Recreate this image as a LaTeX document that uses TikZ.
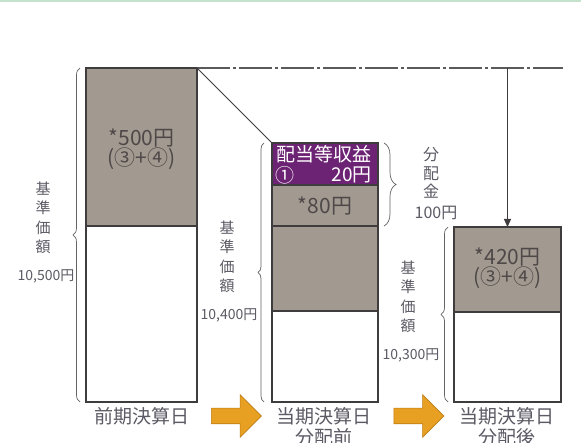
\documentclass[tikz,border=0pt]{standalone}
\usepackage{fontspec}
\setmainfont{Noto Sans CJK JP}
\usetikzlibrary{decorations.pathreplacing,shapes.arrows,arrows.meta}
\definecolor{boxgray}{RGB}{162,153,144}
\definecolor{linegray}{RGB}{62,60,60}
\definecolor{txtgray}{RGB}{92,90,100}
\definecolor{intxt}{RGB}{78,72,72}
\definecolor{dpurple}{RGB}{108,35,115}
\definecolor{arrorange}{RGB}{232,160,34}
\definecolor{arredge}{RGB}{190,125,20}
\definecolor{topgreen}{RGB}{196,226,204}
\begin{document}
\begin{tikzpicture}[x=1pt,y=-1pt,
  seg/.style={draw=linegray, line width=1.3pt, inner sep=0pt, outer sep=0pt, anchor=north west},
  intext/.style={text=intxt, font=\fontsize{21}{20}\selectfont, align=center, inner sep=0pt},
  lbl/.style={text=txtgray, inner sep=0pt, align=center},
  vlbl/.style={lbl, font=\fontsize{15}{19.5}\selectfont},
  numlbl/.style={lbl, font=\fontsize{14}{15}\selectfont},
  datelbl/.style={lbl, font=\fontsize{19}{21}\selectfont},
  bracestyle/.style={draw=linegray!80, line width=0.7pt, decorate},
  bigarrow/.style={single arrow, draw=arredge, fill=arrorange, line width=0.6pt, inner sep=7.5pt, minimum height=50pt, minimum width=42pt, single arrow head extend=13.5pt},
]
\useasboundingbox (0,0) rectangle (581,443);
\fill[white] (0,0) rectangle (581,443);
\fill[topgreen] (0,0) rectangle (581,2);

% box 1
\node[seg, fill=boxgray, minimum width=111pt, minimum height=158pt] (b1top) at (86,68) {};
\node[seg, fill=white, minimum width=111pt, minimum height=176pt] (b1bot) at (86,226) {};
\node[intext] (t1) at (141.5,149) {*500円\\(③+④)};

% box 2
\node[seg, fill=dpurple, minimum width=106pt, minimum height=42pt] (b2p) at (272,143) {};
\node[seg, fill=boxgray, minimum width=106pt, minimum height=41pt] (b2a) at (272,185) {};
\node[seg, fill=boxgray, minimum width=106pt, minimum height=85pt] (b2b) at (272,226) {};
\node[seg, fill=white, minimum width=106pt, minimum height=91pt] (b2c) at (272,311) {};
\node[intext, text=white, font=\fontsize{19}{20}\selectfont] (t2a) at (324,154) {配当等収益};
\node[intext, text=white, font=\fontsize{19}{20}\selectfont, anchor=west] (t2b) at (275,175) {①};
\node[intext, text=white, font=\fontsize{19}{20}\selectfont, anchor=east] (t2c) at (372,175) {20円};
\node[intext] (t2d) at (325,206) {*80円};

% box 3
\node[seg, fill=boxgray, minimum width=107pt, minimum height=85pt] (b3top) at (454,227) {};
\node[seg, fill=white, minimum width=107pt, minimum height=90pt] (b3bot) at (454,312) {};
\node[intext] (t3) at (507.5,268) {*420円\\(③+④)};

% connectors
\coordinate (dashend) at (563,68);
\draw[linegray!85, line width=1.4pt, dash pattern=on 33pt off 3pt on 3pt off 3pt] (b1top.north east) -- (dashend);
\draw[linegray, line width=0.8pt] (b1top.north east) -- (b2p.north west);
\draw[linegray, line width=1pt, -{Triangle[length=8pt,width=7pt]}] (b3top.north |- b1top.north) -- (b3top.north);

% braces
\draw[bracestyle, decoration={brace, amplitude=7pt}] ([xshift=-6pt]b1bot.south west) -- ([xshift=-6pt]b1top.north west);
\draw[bracestyle, decoration={brace, amplitude=6pt}] ([xshift=-8pt]b2c.south west) -- ([xshift=-8pt]b2p.north west);
\draw[bracestyle, decoration={brace, amplitude=7pt}] ([xshift=-6pt]b3bot.south west) -- ([xshift=-6pt]b3top.north west);
\draw[bracestyle, decoration={brace, amplitude=12pt}] ([xshift=6pt]b2p.north east) -- ([xshift=6pt]b2a.south east);

% side labels
\node[vlbl] (v1) at (43,218) {基\\準\\価\\額};
\node[numlbl] (n1) at (46,276) {10,500円};
\node[vlbl] (v2) at (227,257) {基\\準\\価\\額};
\node[numlbl] (n2) at (229,315) {10,400円};
\node[vlbl] (v3) at (408,297) {基\\準\\価\\額};
\node[numlbl] (n3) at (411,355) {10,300円};
\node[vlbl, font=\fontsize{16}{18.5}\selectfont] (v4) at (431,173) {分\\配\\金};
\node[lbl, font=\fontsize{16}{18}\selectfont] (n4) at (436,213) {100円};

% bottom labels and arrows
\node[datelbl, anchor=north] (d1) at (141.5,407) {前期決算日};
\node[datelbl, anchor=north] (d2) at (324,407) {当期決算日\\分配前};
\node[datelbl, anchor=north] (d3) at (506.5,407) {当期決算日\\分配後};
\node[bigarrow] (a1) at (232.5,416) {};
\node[bigarrow] (a2) at (415,416) {};
\end{tikzpicture}
\end{document}
